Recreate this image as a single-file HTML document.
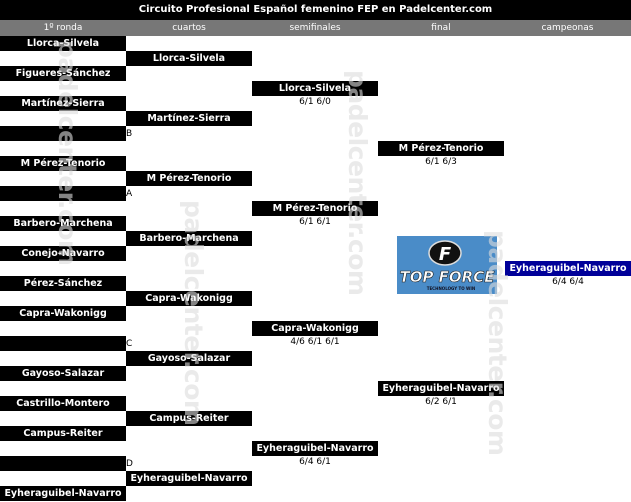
<!DOCTYPE html>
<html><head><meta charset="utf-8"><style>
body{margin:0;width:631px;height:502px;overflow:hidden;background:#fff;position:relative;font-family:Verdana,"DejaVu Sans","Liberation Sans",sans-serif}
.b{position:absolute;height:15px;background:#000;color:#fff;font-weight:bold;font-size:9.5px;line-height:15px;text-align:center;white-space:nowrap;z-index:2;overflow:hidden}
.s{position:absolute;height:13px;font-size:9px;line-height:13px;text-align:center;color:#000;z-index:2}
.l{position:absolute;font-size:9px;line-height:12px;z-index:2}
.w{position:absolute;color:#ddd;font-weight:bold;font-size:25px;font-family:"DejaVu Sans",sans-serif;transform-origin:0 0;transform:rotate(90deg);white-space:nowrap;z-index:3;opacity:.6;letter-spacing:-0.5px}
.h{position:absolute;top:20px;height:16px;background:#777;color:#fff;font-size:9px;line-height:16px;text-align:center}
</style></head><body>
<div style="position:absolute;left:0;top:0;width:631px;height:20px;background:#000;color:#fff;font-weight:bold;font-size:10px;line-height:20px;text-align:center">Circuito Profesional Español femenino FEP en Padelcenter.com</div>
<div class="h" style="left:0;width:126px">1º ronda</div>
<div class="h" style="left:126px;width:126px">cuartos</div>
<div class="h" style="left:252px;width:126px">semifinales</div>
<div class="h" style="left:378px;width:126px">final</div>
<div class="h" style="left:504px;width:127px">campeonas</div>

<div class="b" style="left:0;width:126px;top:36px">Llorca-Silvela</div>
<div class="b" style="left:0;width:126px;top:66px">Figueres-Sánchez</div>
<div class="b" style="left:0;width:126px;top:96px">Martínez-Sierra</div>
<div class="b" style="left:0;width:126px;top:126px"></div>
<div class="b" style="left:0;width:126px;top:156px">M Pérez-Tenorio</div>
<div class="b" style="left:0;width:126px;top:186px"></div>
<div class="b" style="left:0;width:126px;top:216px">Barbero-Marchena</div>
<div class="b" style="left:0;width:126px;top:246px">Conejo-Navarro</div>
<div class="b" style="left:0;width:126px;top:276px">Pérez-Sánchez</div>
<div class="b" style="left:0;width:126px;top:306px">Capra-Wakonigg</div>
<div class="b" style="left:0;width:126px;top:336px"></div>
<div class="b" style="left:0;width:126px;top:366px">Gayoso-Salazar</div>
<div class="b" style="left:0;width:126px;top:396px">Castrillo-Montero</div>
<div class="b" style="left:0;width:126px;top:426px">Campus-Reiter</div>
<div class="b" style="left:0;width:126px;top:456px"></div>
<div class="b" style="left:0;width:126px;top:486px">Eyheraguibel-Navarro</div>
<div class="l" style="left:126px;top:128px">B</div>
<div class="l" style="left:126px;top:188px">A</div>
<div class="l" style="left:126px;top:338px">C</div>
<div class="l" style="left:126px;top:458px">D</div>

<div class="b" style="left:126px;width:126px;top:51px">Llorca-Silvela</div>
<div class="b" style="left:126px;width:126px;top:111px">Martínez-Sierra</div>
<div class="b" style="left:126px;width:126px;top:171px">M Pérez-Tenorio</div>
<div class="b" style="left:126px;width:126px;top:231px">Barbero-Marchena</div>
<div class="b" style="left:126px;width:126px;top:291px">Capra-Wakonigg</div>
<div class="b" style="left:126px;width:126px;top:351px">Gayoso-Salazar</div>
<div class="b" style="left:126px;width:126px;top:411px">Campus-Reiter</div>
<div class="b" style="left:126px;width:126px;top:471px">Eyheraguibel-Navarro</div>

<div class="b" style="left:252px;width:126px;top:81px">Llorca-Silvela</div>
<div class="s" style="left:252px;width:126px;top:96px">6/1 6/0</div>
<div class="b" style="left:252px;width:126px;top:201px">M Pérez-Tenorio</div>
<div class="s" style="left:252px;width:126px;top:216px">6/1 6/1</div>
<div class="b" style="left:252px;width:126px;top:321px">Capra-Wakonigg</div>
<div class="s" style="left:252px;width:126px;top:336px">4/6 6/1 6/1</div>
<div class="b" style="left:252px;width:126px;top:441px">Eyheraguibel-Navarro</div>
<div class="s" style="left:252px;width:126px;top:456px">6/4 6/1</div>

<div class="b" style="left:378px;width:126px;top:141px">M Pérez-Tenorio</div>
<div class="s" style="left:378px;width:126px;top:156px">6/1 6/3</div>
<div class="b" style="left:378px;width:126px;top:381px">Eyheraguibel-Navarro</div>
<div class="s" style="left:378px;width:126px;top:396px">6/2 6/1</div>

<div class="b" style="left:505px;width:126px;top:261px;background:#000099">Eyheraguibel-Navarro</div>
<div class="s" style="left:505px;width:126px;top:276px">6/4 6/4</div>

<div style="position:absolute;left:397px;top:236px;width:100px;height:58px;background:#4a8cc8;z-index:1">
<svg width="100" height="58"><ellipse cx="48" cy="17" rx="16" ry="12" fill="#111" stroke="#ddd" stroke-width="1.5"/><text x="48" y="24" fill="#fff" font-size="18" font-weight="bold" font-style="italic" text-anchor="middle" font-family="DejaVu Sans">F</text><text x="50" y="46" fill="#fff" stroke="#222" stroke-width=".6" font-size="15" font-style="italic" font-weight="bold" text-anchor="middle" font-family="DejaVu Sans">TOP FORCE</text><text x="54" y="54" fill="#112" font-size="4" font-weight="bold" text-anchor="middle">TECHNOLOGY TO WIN</text></svg></div>

<div class="w" style="left:82px;top:40px">padelcenter.com</div>
<div class="w" style="left:208px;top:200px">padelcenter.com</div>
<div class="w" style="left:372px;top:70px">padelcenter.com</div>
<div class="w" style="left:512px;top:230px">padelcenter.com</div>
</body></html>
